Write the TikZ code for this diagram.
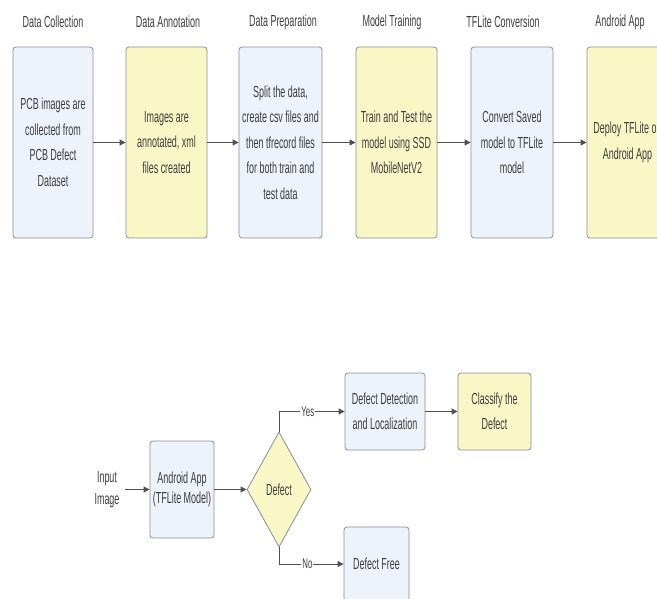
\documentclass[tikz,border=0pt]{standalone}
\usepackage{fontspec}
\setmainfont[FakeStretch=0.56]{Liberation Sans}
\usetikzlibrary{arrows.meta,shapes.geometric}
\definecolor{boxblue}{HTML}{EDF2FB}
\definecolor{boxyellow}{HTML}{FAF7C6}
\definecolor{edgegray}{HTML}{8A8E98}
\definecolor{txtgray}{HTML}{3E3E3E}
\definecolor{arrgray}{HTML}{505050}
\tikzset{
  basebox/.style={draw=edgegray, line width=0.8pt, rounded corners=3pt, inner sep=0pt,
    align=center, text=txtgray, font={\fontsize{16}{25.5}\selectfont}},
  bluebox/.style={basebox, fill=boxblue},
  yellowbox/.style={basebox, fill=boxyellow},
  tallbox/.style={minimum height=191pt},
  title/.style={text=txtgray, font={\fontsize{16}{18}\selectfont}, inner sep=0pt},
  plain/.style={text=txtgray, align=center, inner sep=5pt},
  conn/.style={draw=arrgray, line width=0.9pt, -{Triangle[length=6pt,width=6pt]}},
  lbl/.style={fill=white, text=txtgray, inner sep=1pt, font={\fontsize{14}{16}\selectfont}},
  decision/.style={diamond, draw=edgegray, line width=0.8pt, fill=boxyellow, text=txtgray,
    inner sep=0pt, minimum width=64pt, minimum height=115pt, font={\fontsize{16}{18}\selectfont}}
}
\begin{document}
\begin{tikzpicture}[x=1pt,y=-1pt]
\useasboundingbox (0,0) rectangle (657,599);
\clip (0,0) rectangle (657,599);
% titles
\node[title] (t1) at (53,22) {Data Collection};
\node[title] (t2) at (168,22) {Data Annotation};
\node[title] (t3) at (283,22) {Data Preparation};
\node[title] (t4) at (392,22) {Model Training};
\node[title] (t5) at (503,22) {TFLite Conversion};
\node[title] (t6) at (620,22) {Android App};
% top row boxes
\node[bluebox, tallbox, minimum width=80pt] (b1) at (53,142.5) {PCB images are\\collected from\\PCB Defect\\Dataset};
\node[yellowbox, tallbox, minimum width=81pt] (b2) at (166.5,142.5) {Images are\\annotated, xml\\files created};
\node[bluebox, tallbox, minimum width=83pt] (b3) at (280.5,142.5) {Split the data,\\create csv files and\\then tfrecord files\\for both train and\\test data};
\node[yellowbox, tallbox, minimum width=81pt] (b4) at (396.5,142.5) {Train and Test the\\model using SSD\\MobileNetV2};
\node[bluebox, tallbox, minimum width=82pt] (b5) at (512,142.5) {Convert Saved\\model to TFLite\\model};
\node[yellowbox, tallbox, minimum width=81pt] (b6) at (627.5,142.5) {Deploy TFLite on\\Android App};
\draw[conn] (b1) -- (b2);
\draw[conn] (b2) -- (b3);
\draw[conn] (b3) -- (b4);
\draw[conn] (b4) -- (b5);
\draw[conn] (b5) -- (b6);
% bottom flow
\node[plain, font={\fontsize{16}{22}\selectfont}] (in) at (107,489.5) {Input\\Image};
\node[bluebox, minimum width=64pt, minimum height=97pt, font={\fontsize{16}{20}\selectfont}] (app) at (182,489.5) {Android App\\(TFLite Model)};
\node[decision] (dia) at (279,489.5) {Defect};
\node[bluebox, minimum width=80pt, minimum height=77pt, font={\fontsize{16}{25}\selectfont}] (det) at (385,411.5) {Defect Detection\\and Localization};
\node[yellowbox, minimum width=73pt, minimum height=77pt, font={\fontsize{16}{25}\selectfont}] (cls) at (494.5,411.5) {Classify the\\Defect};
\node[bluebox, minimum width=65pt, minimum height=74pt] (free) at (376.5,564) {Defect Free};
\draw[conn] (in) -- (app);
\draw[conn] (app) -- (dia);
\draw[conn] (dia.north) |- node[lbl, pos=0.72] {Yes} (det.west);
\draw[conn] (dia.south) |- node[lbl, pos=0.72] {No} (free.west);
\draw[conn] (det) -- (cls);
\end{tikzpicture}
\end{document}
